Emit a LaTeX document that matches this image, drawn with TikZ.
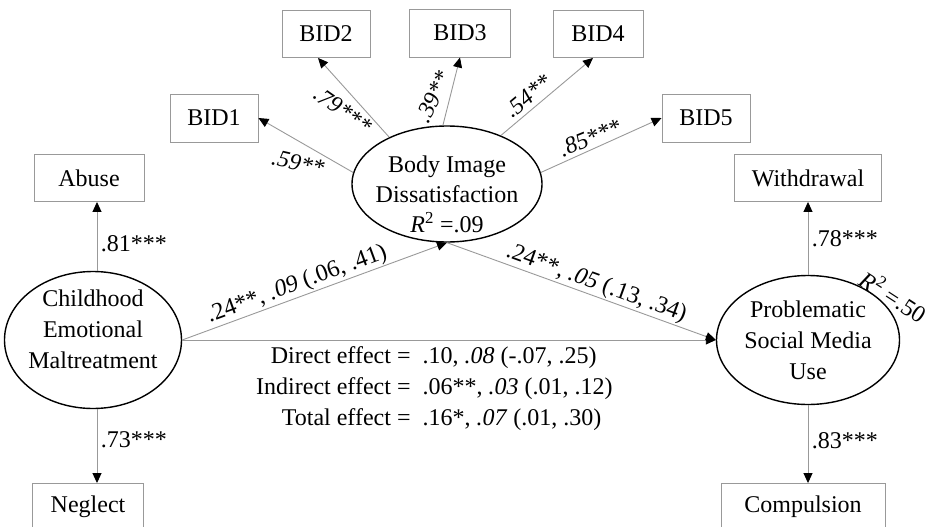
\documentclass[tikz,border=0pt]{standalone}
\usepackage{fontspec}
\setmainfont{Liberation Serif}
\usepackage{tikz}
\usetikzlibrary{shapes,arrows.meta,positioning,calc}

\tikzset{
    bigtext/.style={font=\fontsize{24}{31}\selectfont},
    smalltext/.style={font=\fontsize{24}{30}\selectfont},
    loadtext/.style={font=\fontsize{23.5}{28}\selectfont\itshape, inner sep=0pt},
    latent/.style={ellipse, draw=black, line width=1.4pt, inner sep=0pt, align=center},
    observed/.style={draw=gray!80, line width=0.9pt, inner sep=0pt, minimum height=47pt},
    link/.style={draw=gray!80, line width=0.9pt, -{Triangle[length=10pt,width=9pt,color=black]}},
}

\begin{document}
\begin{tikzpicture}[x=1pt,y=-1pt]
    \useasboundingbox (0,0) rectangle (934,527);
    % Latent variables
    \node[latent, bigtext, minimum width=177pt, minimum height=137pt, inner xsep=-4pt, inner ysep=-7pt] (cem) at (93,340) {Childhood\\Emotional\\Maltreatment\rule[-21pt]{0pt}{0pt}};
    \node[latent, smalltext, minimum width=190pt, minimum height=116pt, inner xsep=-6pt, inner ysep=-12pt] (bid) at (447,184) {\rule{0pt}{37pt}Body Image\\Dissatisfaction\\\textit{R}\textsuperscript{2} =.09};
    \node[latent, bigtext, minimum width=183pt, minimum height=129pt] (psmu) at (808,340) {Problematic\\Social Media\\Use};
    \node[bigtext, rotate=-33, inner sep=0pt] (rpsmu) at (894,296) {\textit{R}\textsuperscript{2} =.50};

    % Indicators
    \node[observed, bigtext, minimum width=110pt] (abuse) at (89,178) {Abuse};
    \node[observed, bigtext, minimum width=111pt] (neglect) at (88,507) {Neglect};
    \node[observed, bigtext, minimum width=147pt] (withdrawal) at (808,178) {Withdrawal};
    \node[observed, bigtext, minimum width=164pt] (compulsion) at (803,507) {Compulsion};
    \node[observed, smalltext, minimum width=88pt, minimum height=48pt] (bid1) at (214,118) {BID1};
    \node[observed, smalltext, minimum width=88pt] (bid2) at (326,34) {BID2};
    \node[observed, smalltext, minimum width=101pt, minimum height=48pt] (bid3) at (460,33) {BID3};
    \node[observed, smalltext, minimum width=90pt] (bid4) at (598,34) {BID4};
    \node[observed, smalltext, minimum width=88pt, minimum height=48pt] (bid5) at (706,118) {BID5};

    % Loadings
    \draw[link] ([xshift=4pt]cem.north) -- ([xshift=4pt]cem.north |- abuse.south) node[bigtext, pos=0.4, right] (labuse) {.81***};
    \draw[link] ([xshift=4pt]cem.south) -- ([xshift=4pt]cem.south |- neglect.north) node[bigtext, pos=0.42, right] (lneglect) {.73***};
    \draw[link] (psmu.north) -- (psmu.north |- withdrawal.south) node[bigtext, pos=0.5, right] (lwithdrawal) {.78***};
    \draw[link] (psmu.south) -- (psmu.south |- compulsion.north) node[bigtext, pos=0.45, right] (lcompulsion) {.83***};

    \draw[link] (bid.173) -- (bid1.east);
    \draw[link] (bid.141) -- ([xshift=-8pt]bid2.south);
    \draw[link] (bid.94) -- (bid3.south);
    \draw[link] (bid.42) -- ([xshift=-5pt]bid4.south);
    \draw[link] (bid.7) -- (bid5.west);
    \node[loadtext, rotate=-13] (l1) at (298,163) {.59**};
    \node[loadtext, rotate=-35] (l2) at (343,110) {.79***};
    \node[loadtext, rotate=65] (l3) at (433,97) {.39**};
    \node[loadtext, rotate=40] (l4) at (528,96) {.54**};
    \node[loadtext, rotate=22] (l5) at (590,138) {.85***};

    % Structural paths
    \draw[link] (cem.east) -- (bid.south) node[bigtext, sloped, above, pos=0.45, inner sep=1pt] (pa) {.24**, \textit{.09} (.06, .41)};
    \draw[link] (bid.south) -- (psmu.west) node[bigtext, sloped, above, pos=0.54, inner sep=1pt] (pb) {.24**, \textit{.05} (.13, .34)};
    \draw[link] (cem.east) -- (psmu.west);

    \node[bigtext, anchor=west, inner sep=0pt] (effects) at (256,388) {\begin{tabular}{@{}r@{\hspace{12pt}}l@{}}
        Direct effect = & .10, \textit{.08} (-.07, .25)\\
        Indirect effect = & .06**, \textit{.03} (.01, .12)\\
        Total effect = & .16*, \textit{.07} (.01, .30)
    \end{tabular}};
\end{tikzpicture}
\end{document}
